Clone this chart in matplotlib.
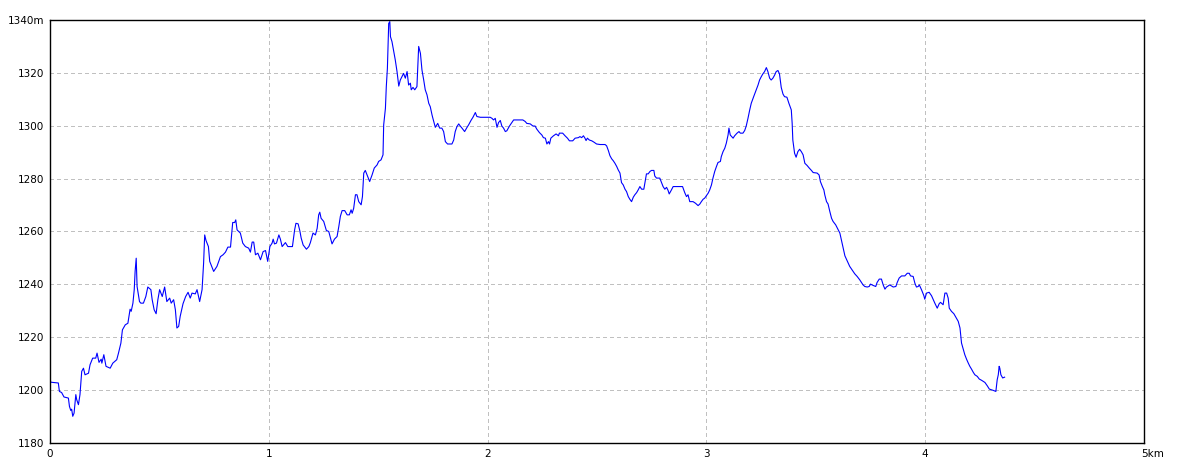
import matplotlib
matplotlib.use('Agg')
import matplotlib.pyplot as plt
import matplotlib.transforms as mtransforms

# distance (km) and elevation (m)
dist_km = [
    0.000, 0.003, 0.038, 0.043, 0.053, 0.064, 0.084, 0.089, 0.095, 0.099,
    0.104, 0.110, 0.118, 0.122, 0.130, 0.137, 0.145, 0.153, 0.160, 0.176,
    0.183, 0.195, 0.209, 0.215, 0.224, 0.234, 0.237, 0.246, 0.256, 0.275,
    0.287, 0.305, 0.313, 0.324, 0.331, 0.344, 0.356, 0.366, 0.371, 0.379,
    0.385, 0.389, 0.394, 0.398, 0.409, 0.415, 0.427, 0.438, 0.447, 0.461,
    0.467, 0.476, 0.485, 0.493, 0.501, 0.513, 0.524, 0.534, 0.547, 0.554,
    0.565, 0.573, 0.580, 0.588, 0.595, 0.608, 0.620, 0.631, 0.641, 0.649,
    0.664, 0.672, 0.684, 0.695, 0.702, 0.707, 0.713, 0.724, 0.730, 0.742,
    0.748, 0.763, 0.779, 0.791, 0.802, 0.813, 0.825, 0.835, 0.844, 0.849,
    0.855, 0.870, 0.881, 0.893, 0.908, 0.916, 0.924, 0.931, 0.939, 0.950,
    0.962, 0.974, 0.985, 0.995, 1.005, 1.015, 1.020, 1.026, 1.035, 1.046,
    1.053, 1.061, 1.076, 1.087, 1.108, 1.118, 1.124, 1.134, 1.142,
    1.148, 1.157, 1.172, 1.183, 1.190, 1.202, 1.213, 1.221, 1.228, 1.233,
    1.239, 1.251, 1.263, 1.274, 1.282, 1.289, 1.300, 1.312, 1.320, 1.327,
    1.335, 1.347, 1.358, 1.368, 1.376, 1.381, 1.388, 1.396, 1.403, 1.411,
    1.422, 1.428, 1.434, 1.441, 1.449, 1.461, 1.472, 1.482, 1.495, 1.502,
    1.513, 1.522, 1.525, 1.533, 1.537, 1.542, 1.548, 1.553, 1.556, 1.563,
    1.571, 1.578, 1.586, 1.594, 1.601, 1.609, 1.616, 1.624, 1.632, 1.639,
    1.647, 1.651, 1.659, 1.667, 1.677, 1.685, 1.693, 1.700, 1.708, 1.715,
    1.723, 1.731, 1.738, 1.746, 1.750, 1.761, 1.772, 1.781, 1.791, 1.799,
    1.807, 1.817, 1.837, 1.845, 1.852, 1.860, 1.868, 1.875, 1.883, 1.895,
    1.906, 1.913, 1.924, 1.933, 1.944, 1.951, 1.967, 1.989, 2.012, 2.020,
    2.027, 2.035, 2.043, 2.050, 2.058,
    2.065, 2.073, 2.081, 2.088, 2.100, 2.111, 2.119, 2.161, 2.172, 2.179,
    2.195, 2.207, 2.217, 2.225, 2.237, 2.248, 2.255, 2.264, 2.271, 2.278,
    2.283, 2.289, 2.301, 2.313, 2.324, 2.328, 2.343, 2.354, 2.365, 2.374,
    2.389, 2.400, 2.415, 2.422, 2.430, 2.438, 2.445, 2.450, 2.456, 2.465,
    2.476, 2.486, 2.498, 2.514, 2.537, 2.544, 2.552, 2.559, 2.567, 2.574,
    2.582, 2.590, 2.597, 2.605, 2.612, 2.620, 2.628, 2.635, 2.643, 2.650,
    2.658, 2.666, 2.673, 2.681, 2.688, 2.696, 2.704, 2.714, 2.726, 2.734,
    2.742, 2.749, 2.760, 2.764, 2.772, 2.787, 2.795, 2.802, 2.810, 2.818,
    2.825, 2.830, 2.840, 2.848, 2.891, 2.901, 2.909, 2.916, 2.924, 2.939,
    2.950, 2.962, 2.970, 2.977, 2.985, 2.992, 3.008, 3.015, 3.023, 3.030,
    3.038, 3.046, 3.053, 3.064, 3.068, 3.076, 3.084, 3.091, 3.099, 3.103,
    3.109, 3.122, 3.129, 3.140, 3.149, 3.155, 3.167, 3.175, 3.182, 3.190,
    3.198, 3.205, 3.216, 3.228, 3.236, 3.243, 3.251, 3.258, 3.266, 3.274,
    3.281, 3.289, 3.296, 3.304, 3.312, 3.319, 3.327, 3.334, 3.342, 3.350,
    3.357, 3.368, 3.377, 3.388, 3.392, 3.395, 3.403, 3.410, 3.418, 3.426,
    3.434, 3.442, 3.450, 3.460, 3.470, 3.480, 3.488, 3.506, 3.515, 3.521,
    3.530, 3.537, 3.541, 3.549, 3.556, 3.564, 3.572, 3.579, 3.591, 3.599,
    3.610, 3.617, 3.625, 3.633, 3.640, 3.648, 3.655, 3.668, 3.678, 3.689,
    3.701, 3.709, 3.716, 3.724, 3.735, 3.744, 3.750, 3.762, 3.774, 3.780,
    3.790, 3.800, 3.808, 3.816, 3.823, 3.838, 3.854, 3.866, 3.872, 3.881,
    3.892, 3.907, 3.918, 3.927, 3.933, 3.945, 3.953, 3.960, 3.968, 3.973,
    3.983, 3.994, 3.998, 4.006, 4.018, 4.029, 4.037, 4.044, 4.055, 4.064,
    4.070, 4.082, 4.090, 4.098, 4.105, 4.110, 4.120, 4.131, 4.143, 4.151,
    4.159, 4.166, 4.174, 4.181, 4.189, 4.197, 4.204, 4.212, 4.220, 4.227,
    4.238, 4.247, 4.258, 4.273, 4.284, 4.293, 4.311, 4.323, 4.329, 4.334,
    4.338, 4.341, 4.346, 4.354, 4.363,
]
elev_m = [
    1205.0, 1203.0, 1202.7, 1199.5, 1199.1, 1197.4, 1197.0, 1193.8, 1192.3, 1192.8,
    1190.1, 1191.3, 1198.3, 1196.4, 1194.5, 1198.3, 1207.1, 1208.3, 1205.8, 1206.4,
    1209.6, 1212.1, 1212.1, 1214.0, 1210.5, 1211.7, 1210.2, 1213.4, 1209.0, 1208.3,
    1210.2, 1211.5, 1214.0, 1217.8, 1222.8, 1224.7, 1225.3, 1230.6, 1229.8, 1232.9,
    1238.0, 1244.9, 1249.9, 1239.2, 1233.5, 1232.9, 1232.9, 1235.4, 1239.0, 1238.0,
    1234.2, 1230.4, 1228.9, 1234.2, 1238.0, 1235.4, 1239.0, 1233.5, 1234.8, 1232.9,
    1234.2, 1230.4, 1223.5, 1224.1, 1227.9, 1232.7, 1235.4, 1237.0, 1234.8, 1236.7,
    1236.4, 1238.0, 1233.5, 1238.0, 1248.0, 1258.7, 1256.6, 1254.3, 1248.7, 1246.1,
    1244.9, 1246.8, 1250.5, 1251.2, 1252.2, 1254.1, 1254.1, 1263.4, 1263.4, 1264.4,
    1260.6, 1259.4, 1255.6, 1254.3, 1253.7, 1252.2, 1256.0, 1256.0, 1251.2, 1251.8,
    1249.3, 1252.4, 1252.8, 1248.7, 1254.3, 1255.6, 1257.1, 1255.3, 1255.6, 1258.7,
    1257.1, 1254.3, 1255.8, 1254.3, 1254.3, 1260.6, 1263.1, 1262.9, 1260.2,
    1257.5, 1254.9, 1253.3, 1254.3, 1255.8, 1259.4, 1258.7, 1261.2, 1266.3, 1267.3,
    1265.0, 1263.8, 1260.4, 1260.0, 1257.5, 1255.3, 1257.1, 1258.1, 1261.9, 1265.7,
    1267.9, 1267.9, 1266.3, 1266.3, 1268.2, 1266.9, 1268.8, 1273.9, 1273.9, 1271.3,
    1270.1, 1273.2, 1282.1, 1283.1, 1281.4, 1278.9, 1281.4, 1284.0, 1285.2, 1286.5,
    1287.1, 1289.0, 1300.3, 1306.6, 1314.8, 1321.7, 1338.7, 1339.4, 1333.7, 1331.8,
    1328.0, 1324.9, 1320.5, 1315.0, 1317.3, 1318.6, 1319.8, 1318.0, 1320.5, 1315.4,
    1316.1, 1313.6, 1314.5, 1313.6, 1314.8, 1330.0, 1327.4, 1321.1, 1317.3, 1313.6,
    1311.7, 1308.5, 1307.2, 1304.1, 1302.8, 1299.4, 1300.9, 1299.1, 1299.1, 1297.8,
    1294.0, 1293.1, 1293.1, 1294.6, 1297.8, 1299.7, 1300.7, 1299.9, 1299.1, 1297.8,
    1299.4, 1300.3, 1302.0, 1303.2, 1305.0, 1303.5, 1303.2, 1303.2, 1303.2, 1302.8,
    1302.2, 1302.8, 1299.4, 1301.2, 1302.0,
    1299.9, 1299.1, 1297.8, 1298.1, 1299.9, 1301.2, 1302.2, 1302.2, 1301.6, 1300.9,
    1300.7, 1299.9, 1299.9, 1298.7, 1297.4, 1296.5, 1295.5, 1295.3, 1293.1, 1294.0,
    1293.1, 1295.3, 1296.2, 1296.9, 1296.2, 1297.2, 1297.2, 1296.2, 1295.3, 1294.3,
    1294.3, 1295.3, 1295.5, 1295.9, 1295.5, 1296.2, 1295.3, 1294.4, 1295.3, 1294.6,
    1294.3, 1293.8, 1293.1, 1292.9, 1292.9, 1292.4, 1290.6, 1288.7, 1287.5, 1286.8,
    1285.8, 1284.6, 1283.3, 1282.1, 1278.5, 1277.6, 1276.0, 1275.1, 1273.2, 1272.2,
    1271.3, 1273.0, 1273.9, 1274.7, 1275.7, 1277.0, 1276.0, 1276.0, 1281.8, 1281.8,
    1282.7, 1283.1, 1283.1, 1281.0, 1280.2, 1280.2, 1278.5, 1277.0, 1276.0, 1276.7,
    1275.5, 1274.2, 1275.7, 1277.0, 1277.0, 1274.7, 1273.2, 1273.9, 1271.3, 1271.3,
    1270.7, 1269.8, 1270.4, 1271.3, 1272.2, 1272.6, 1274.5, 1275.7, 1277.6, 1280.2,
    1282.7, 1284.6, 1286.1, 1286.5, 1288.3, 1290.2, 1291.5, 1293.4, 1296.5, 1299.1,
    1296.5, 1295.3, 1296.2, 1297.2, 1297.8, 1297.2, 1297.2, 1298.2, 1299.9, 1302.8,
    1306.0, 1308.5, 1311.0, 1313.6, 1315.4, 1317.3, 1318.6, 1319.6, 1320.5, 1322.0,
    1320.5, 1318.0, 1317.3, 1318.0, 1319.2, 1320.5, 1320.9, 1319.6, 1314.5, 1312.0,
    1311.0, 1310.8, 1308.5, 1306.0, 1300.9, 1294.6, 1289.6, 1288.1, 1290.2, 1291.1,
    1290.2, 1289.0, 1285.8, 1285.0, 1284.0, 1283.1, 1282.3, 1282.1, 1281.4, 1278.9,
    1277.0, 1275.7, 1273.9, 1271.3, 1270.4, 1267.6, 1265.0, 1263.8, 1262.5, 1261.2,
    1259.4, 1256.8, 1253.7, 1250.8, 1249.5, 1248.0, 1246.8, 1245.2, 1244.0, 1243.0,
    1241.7, 1240.7, 1239.8, 1239.2, 1239.0, 1239.2, 1240.1, 1239.6, 1239.2, 1240.7,
    1242.0, 1242.0, 1239.8, 1238.2, 1239.0, 1239.8, 1239.0, 1239.2, 1240.7, 1242.4,
    1243.2, 1243.2, 1244.2, 1244.2, 1243.2, 1243.0, 1240.4, 1239.0, 1239.2, 1239.8,
    1238.0, 1235.7, 1234.4, 1236.7, 1237.0, 1235.7, 1234.2, 1232.9, 1231.0, 1232.7,
    1233.2, 1232.3, 1236.7, 1236.7, 1234.8, 1231.0, 1229.8, 1228.9, 1227.2, 1226.0,
    1223.5, 1217.8, 1215.5, 1213.4, 1211.7, 1210.2, 1209.0, 1207.9, 1206.7, 1205.8,
    1205.2, 1204.2, 1203.7, 1202.9, 1201.6, 1200.4, 1199.9, 1199.5, 1203.9, 1205.8,
    1209.0, 1208.3, 1205.8, 1204.6, 1204.9,
]

x_ticks = [0, 1, 2, 3, 4, 5]
x_labels = ['0', '1', '2', '3', '4', '5km']
y_ticks = [1180, 1200, 1220, 1240, 1260, 1280, 1300, 1320, 1340]
y_labels = ['1180', '1200', '1220', '1240', '1260', '1280', '1300', '1320', '1340m']

fig = plt.figure(figsize=(11.84, 4.73), dpi=100)
ax = fig.add_axes([50 / 1184, 30 / 473, 1094 / 1184, 423 / 473])

ax.plot(dist_km, elev_m, color='#0000ff', linewidth=0.8)

ax.set_xlim(0, 5)
ax.set_ylim(1180, 1340)
ax.set_xticks(x_ticks)
ax.set_xticklabels(x_labels)
ax.set_yticks(y_ticks)
ax.set_yticklabels(y_labels)
ax.tick_params(length=0, labelsize=7.5, pad=4)

# last x label ("5km") starts just left of the frame corner
last = ax.get_xticklabels()[-1]
last.set_horizontalalignment('left')
last.set_transform(last.get_transform() + mtransforms.ScaledTranslation(-3 / 100, 0, fig.dpi_scale_trans))

ax.grid(True, color='#c0c0c0', linestyle=(0, (3, 3)), linewidth=0.72, antialiased=False)
for s in ax.spines.values():
    s.set_color('black')
    s.set_linewidth(1.0)

fig.savefig('out.png', dpi=100)
